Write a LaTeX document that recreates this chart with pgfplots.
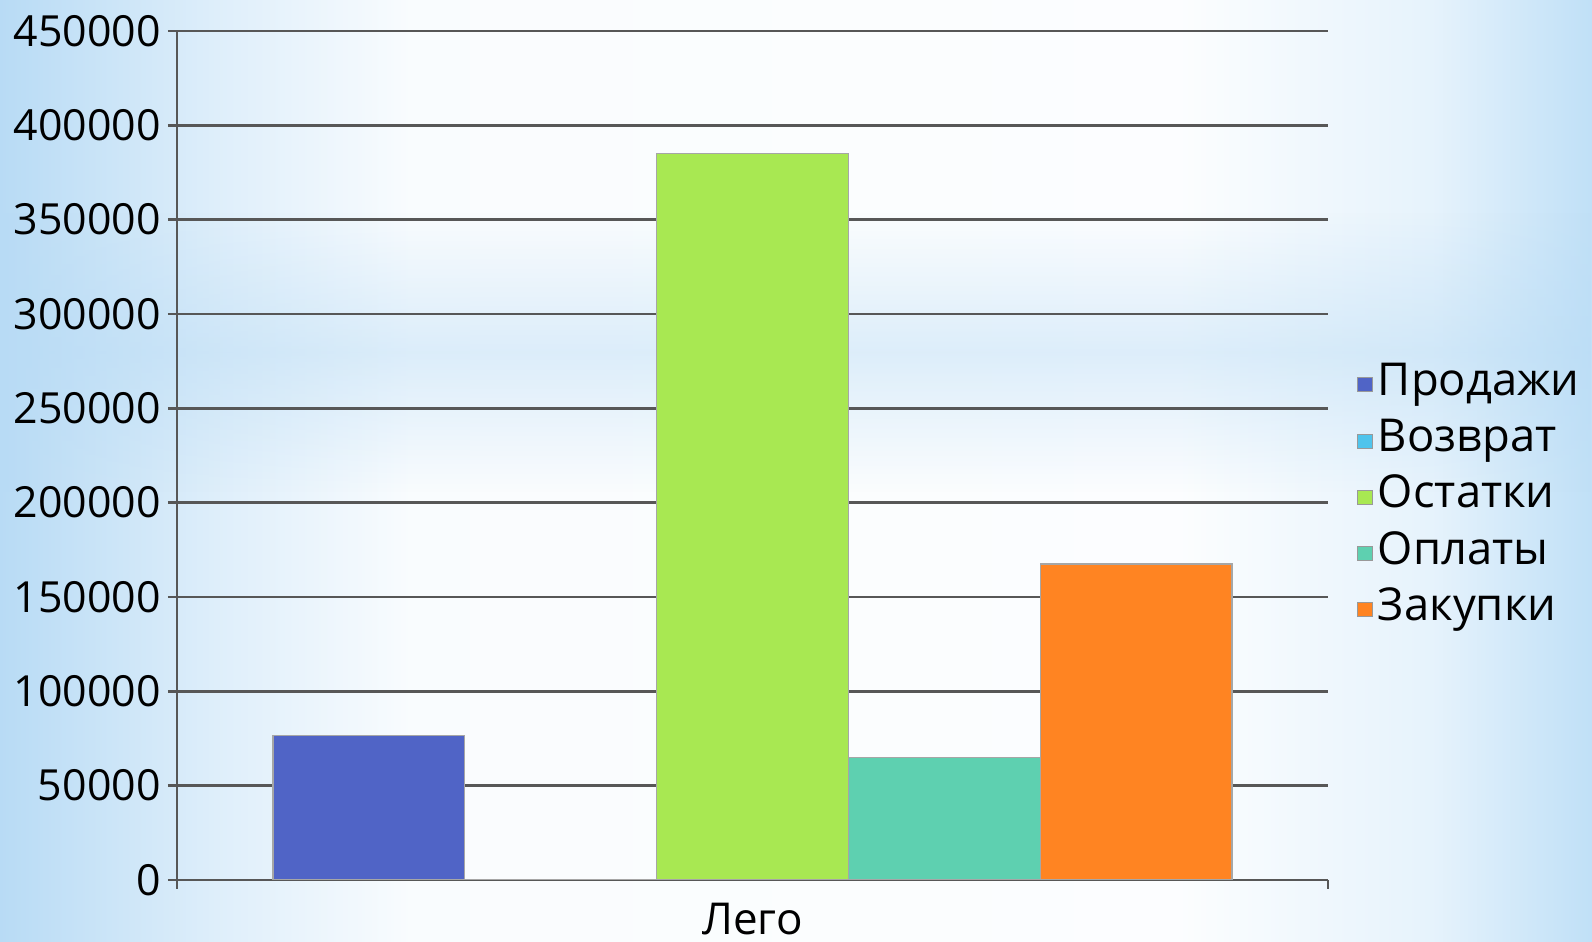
\documentclass[border=0pt]{standalone}
\usepackage{pgfplots}
\pgfplotsset{compat=1.18}
\usetikzlibrary{fadings}
\usepackage{fontspec}
\setmainfont{Open Sans}
\definecolor{cProd}{HTML}{5064C6}
\definecolor{cVoz}{HTML}{4FC4EC}
\definecolor{cOst}{HTML}{A8E852}
\definecolor{cOpl}{HTML}{5ED0B0}
\definecolor{cZak}{HTML}{FF8422}
\definecolor{bgL}{HTML}{B8DBF5}
\definecolor{bgR}{HTML}{C0E0F7}
\definecolor{gridc}{HTML}{575757}
\pgfdeclarehorizontalshading{bgh}{100bp}{color(0bp)=(bgL); color(25bp)=(bgL); color(32bp)=(white!55!bgL); color(38bp)=(white!92!bgL); color(62bp)=(white!95!bgR); color(70bp)=(white!60!bgR); color(75bp)=(bgR); color(100bp)=(bgR)}
\tikzfading[name=bandfade, top color=transparent!100, bottom color=transparent!100, middle color=transparent!0]
\begin{document}
\begin{tikzpicture}[font=\fontsize{12.5pt}{15pt}\selectfont]
\useasboundingbox (0,0) rectangle (159.2mm,94.2mm);
\shade[shading=bgh] (0,0) rectangle (159.2mm,94.2mm);
\fill[bgL, path fading=bandfade, fill opacity=0.45] (0,45mm) rectangle (159.2mm,73mm);
\begin{axis}[
  at={(17.7mm,6.2mm)}, anchor=south west,
  scale only axis, width=115.1mm, height=84.9mm,
  xmin=-0.6, xmax=0.6, ymin=0, ymax=450000,
  ytick={0,50000,100000,150000,200000,250000,300000,350000,400000,450000},
  yticklabels={0,50000,100000,150000,200000,250000,300000,350000,400000,450000},
  xtick={0}, xticklabels={Лего},
  minor xtick={-0.6,0.6},
  scaled y ticks=false,
  axis lines*=left,
  axis line style={-, draw=gridc, line width=0.7pt},
  ymajorgrids, major grid style={draw=gridc, line width=0.7pt},
  tick align=outside,
  major tick length=0.9mm, minor tick length=0.9mm,
  x tick style={draw=none},
  minor x tick style={draw=gridc, line width=0.7pt},
  y tick style={draw=gridc, line width=0.7pt},
  yticklabel style={xshift=0.5mm, font=\fontsize{12.2pt}{15pt}\selectfont},
  xticklabel style={inner ysep=0.5pt, yshift=-1.2mm, font=\fontsize{12.5pt}{15pt}\selectfont},
  ybar, bar width=0.2,
  legend style={at={(1.0243,0.45)}, anchor=west, draw=none, fill=none, inner sep=0pt,
    font=\fontsize{12.9pt}{15pt}\selectfont,
    nodes={inner xsep=1.5pt, inner ysep=1.6pt, text height=9.2pt, text depth=3.6pt, anchor=west}},
  legend cell align=left,
  legend image code/.code={\draw[#1, draw=gray!80, line width=0.3pt] (0mm,-0.65mm) rectangle (1.5mm,0.75mm);},
]
\addplot[fill=cProd, draw=gray!70, bar shift=0pt] coordinates {(-0.4,76500)};
\addlegendentry{Продажи}
\addplot[fill=cVoz, draw=gray!70, bar shift=0pt] coordinates {(-0.2,0)};
\addlegendentry{Возврат}
\addplot[fill=cOst, draw=gray!70, bar shift=0pt] coordinates {(0,385000)};
\addlegendentry{Остатки}
\addplot[fill=cOpl, draw=gray!70, bar shift=0pt] coordinates {(0.2,65000)};
\addlegendentry{Оплаты}
\addplot[fill=cZak, draw=gray!70, bar shift=0pt] coordinates {(0.4,167500)};
\addlegendentry{Закупки}
\end{axis}
\end{tikzpicture}
\end{document}
